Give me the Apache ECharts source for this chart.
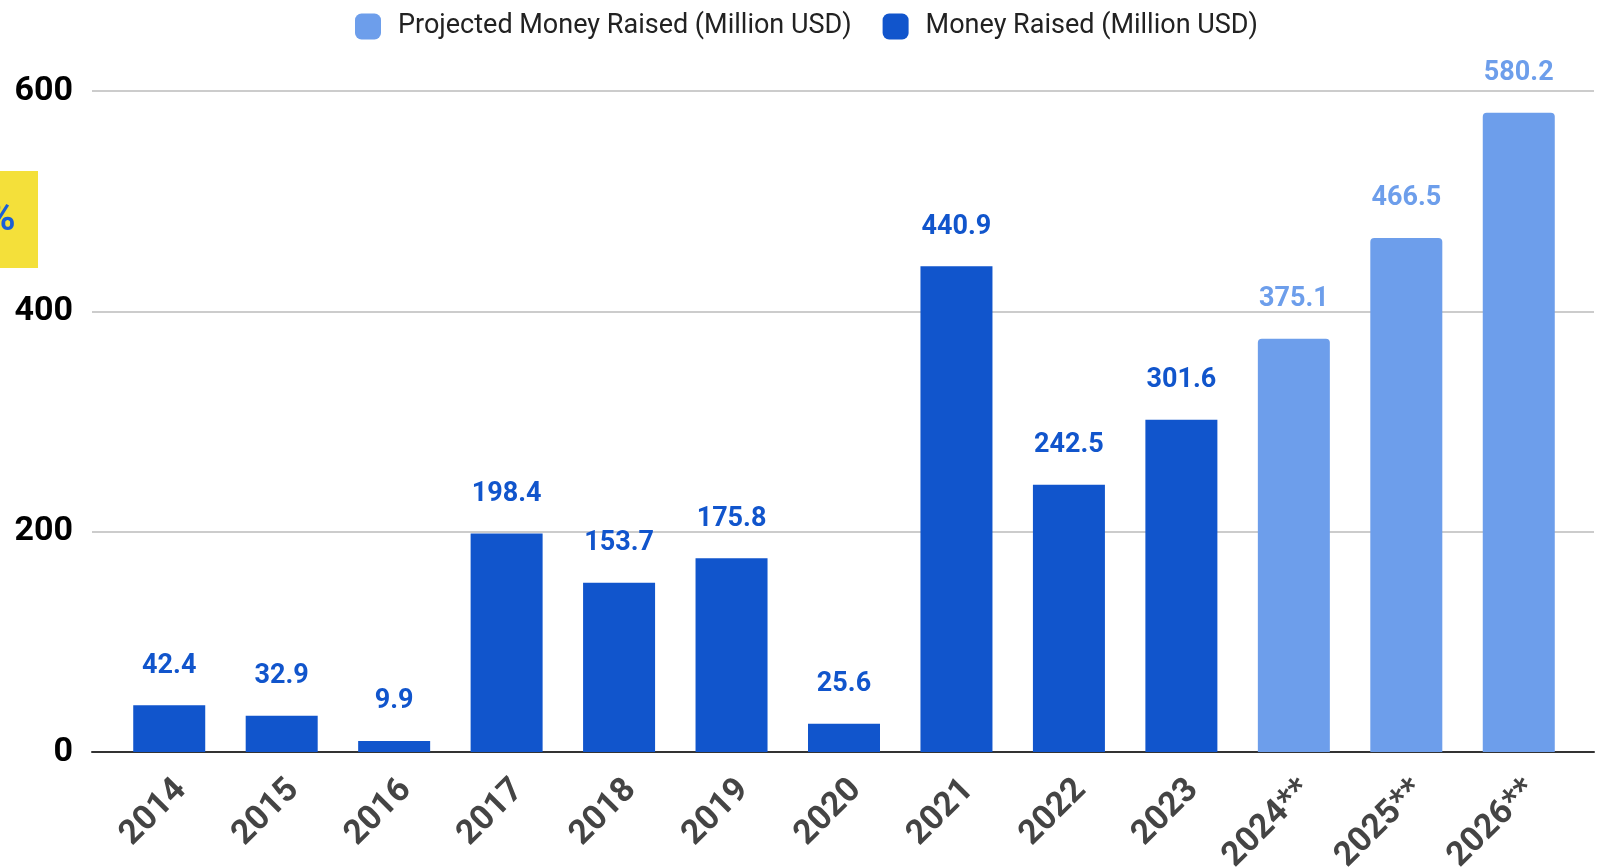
<!DOCTYPE html>
<html>
<head>
<meta charset="utf-8">
<title>Money Raised</title>
<script src="https://cdn.jsdelivr.net/npm/echarts@6/dist/echarts.min.js"></script>
<style>
  html, body { margin: 0; padding: 0; background: #fff; }
  #chart { width: 1600px; height: 868px; }
</style>
</head>
<body>
<div id="chart"></div>
<script>
// data
var years = ['2014', '2015', '2016', '2017', '2018', '2019', '2020', '2021', '2022', '2023', '2024**', '2025**', '2026**'];
var raised = [42.4, 32.9, 9.9, 198.4, 153.7, 175.8, 25.6, 440.9, 242.5, 301.6, null, null, null];
var projected = [null, null, null, null, null, null, null, null, null, null, 375.1, 466.5, 580.2];
var yTicks = [0, 200, 400, 600];

var darkBlue = '#1155cc';
var lightBlue = '#6d9eeb';
var font = 'Roboto, Arial, sans-serif';

var chart = echarts.init(document.getElementById('chart'));

var option = {
  animation: false,
  textStyle: { fontFamily: font },
  legend: {
    top: 8,
    left: 350,
    itemWidth: 26,
    itemHeight: 26,
    itemGap: 31,
    icon: 'roundRect',
    textStyle: { fontSize: 27, color: '#222', padding: [0, 0, 0, 12] },
    data: ['Projected Money Raised (Million USD)', 'Money Raised (Million USD)']
  },
  // grid 0 holds the bars, grid 1 is wider and holds gridlines / baseline
  grid: [
    { left: 113, right: 25, top: 91, bottom: 116, outerBoundsMode: 'none' },
    { left: 92, right: 6, top: 91, bottom: 116, outerBoundsMode: 'none' }
  ],
  xAxis: [
    {
      type: 'category',
      gridIndex: 0,
      data: years,
      axisLine: { show: false },
      axisTick: { show: false },
      axisLabel: {
        rotate: 45,
        margin: 21,
        fontSize: 34,
        fontWeight: 'bold',
        color: '#444',
        verticalAlign: 'top'
      }
    },
    {
      type: 'value',
      gridIndex: 1,
      min: 0,
      max: 1,
      axisLine: { show: true, onZero: false, lineStyle: { color: '#333', width: 2 } },
      axisTick: { show: false },
      axisLabel: { show: false },
      splitLine: { show: false }
    }
  ],
  yAxis: [
    {
      type: 'value',
      gridIndex: 0,
      min: yTicks[0],
      max: yTicks[yTicks.length - 1],
      interval: 200,
      axisLine: { show: false },
      axisTick: { show: false },
      axisLabel: { show: false },
      splitLine: { show: false }
    },
    {
      type: 'value',
      gridIndex: 1,
      min: yTicks[0],
      max: yTicks[yTicks.length - 1],
      interval: 200,
      axisLine: { show: false },
      axisTick: { show: false },
      axisLabel: { fontSize: 34, fontWeight: 'bold', color: '#000', margin: 19 },
      splitLine: { lineStyle: { color: '#ccc', width: 2 } }
    }
  ],
  series: [
    {
      name: 'Projected Money Raised (Million USD)',
      type: 'bar',
      xAxisIndex: 0,
      yAxisIndex: 0,
      barWidth: 72,
      barGap: '-100%',
      data: projected,
      itemStyle: { color: lightBlue, borderRadius: [4, 4, 0, 0] },
      label: {
        show: true,
        position: 'top',
        distance: 26,
        fontSize: 27,
        fontWeight: 'bold',
        color: lightBlue
      }
    },
    {
      name: 'Money Raised (Million USD)',
      type: 'bar',
      xAxisIndex: 0,
      yAxisIndex: 0,
      barWidth: 72,
      barGap: '-100%',
      data: raised,
      itemStyle: { color: darkBlue },
      label: {
        show: true,
        position: 'top',
        distance: 26,
        fontSize: 27,
        fontWeight: 'bold',
        color: darkBlue
      }
    }
  ],
  // yellow tag cut off at the left edge
  graphic: [
    {
      type: 'rect',
      left: 0,
      top: 171,
      shape: { width: 38, height: 97 },
      style: { fill: '#f4e03a' }
    },
    {
      type: 'text',
      left: -14,
      top: 200,
      style: { text: '%', fontSize: 40, fontWeight: 'bold', fill: '#1a5fd6', fontFamily: font }
    }
  ]
};

chart.setOption(option);
</script>
</body>
</html>
